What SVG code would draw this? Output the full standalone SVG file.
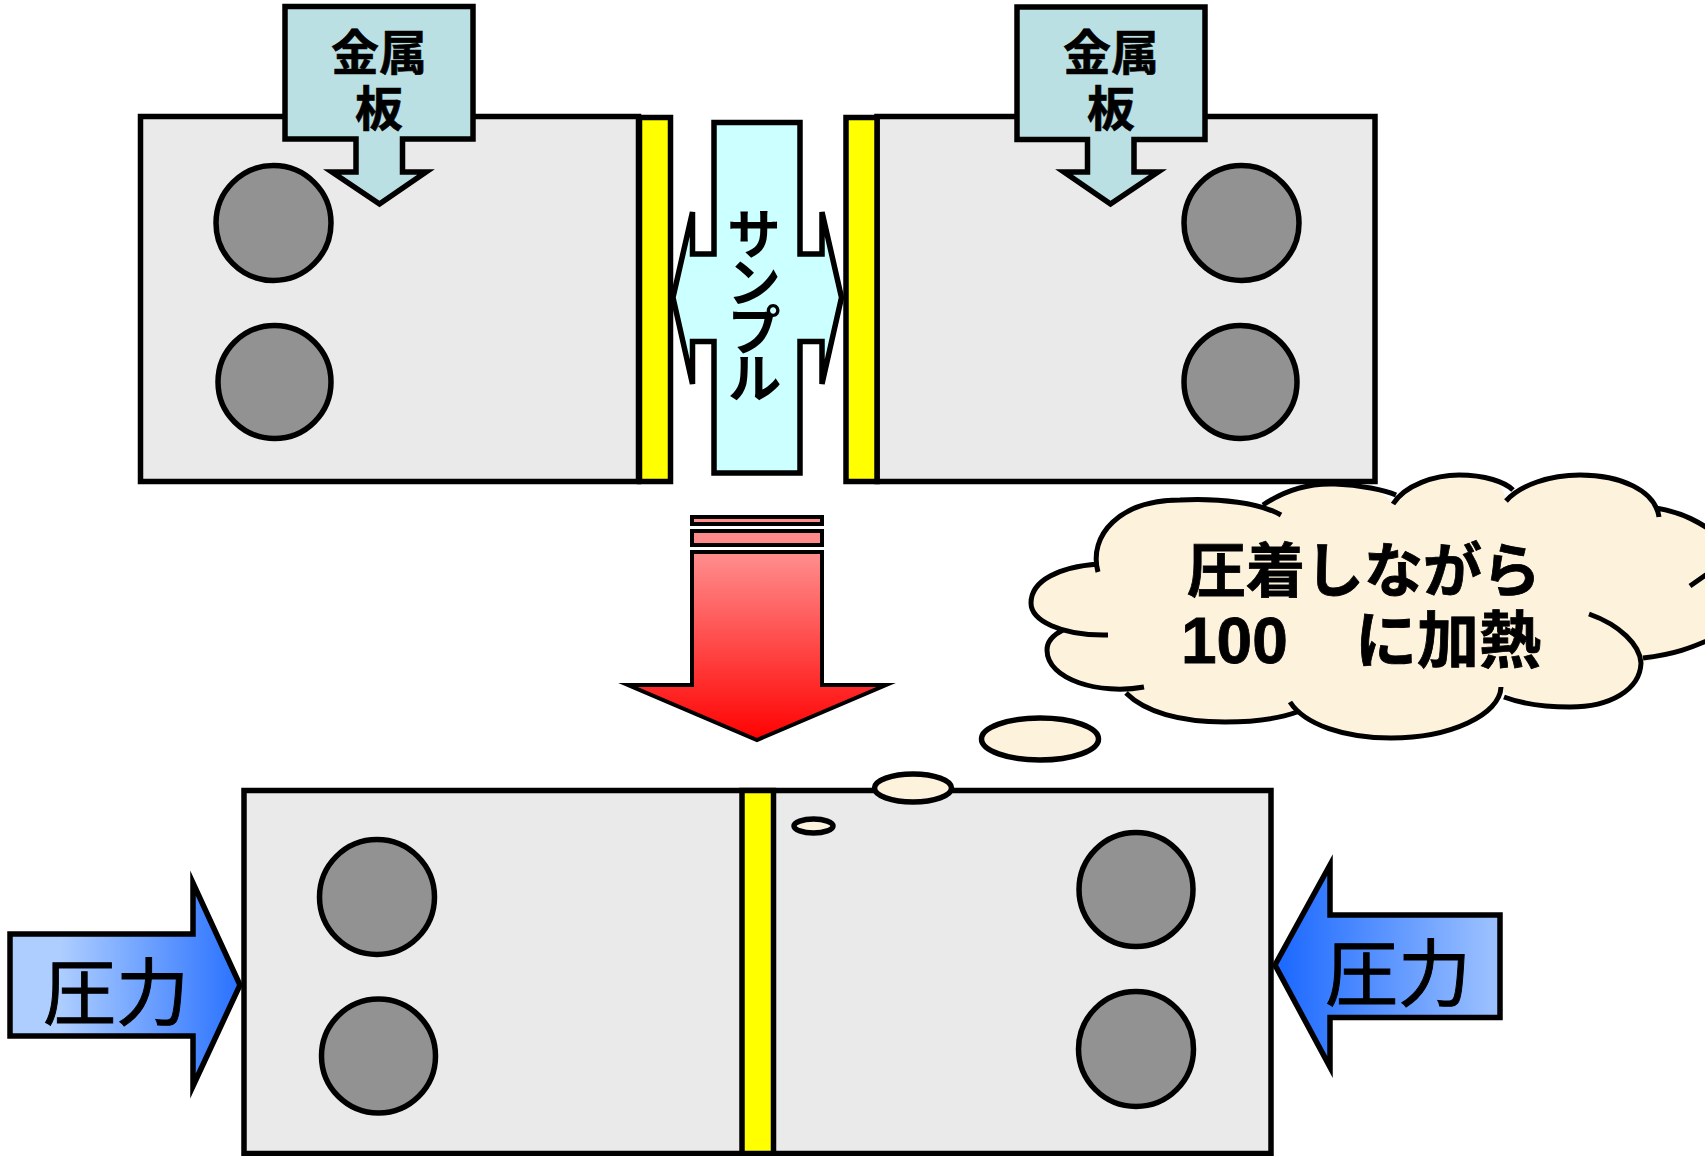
<svg xmlns="http://www.w3.org/2000/svg" width="1705" height="1156" viewBox="0 0 1705 1156">
<style>
.s{stroke:#000;stroke-width:5.500;stroke-miterlimit:10}
.box{fill:#EAEAEA}
.c{fill:#929292}
.y{fill:#FF0}
.m{fill:#BBE0E3}
.cl{fill:#FDF2DC}
.ln{fill:none;stroke:#000;stroke-width:5}
.r{stroke-width:4}
text{fill:#000;font-family:"Liberation Sans","Noto Sans CJK JP",sans-serif}
.b{font-size:48px;font-weight:700;text-anchor:middle;stroke:#000;stroke-width:.6px}
.p{font-size:73px;font-family:"Noto Sans CJK JP",sans-serif;stroke:#000;stroke-width:1px}
.h{font-size:59px;font-weight:700;stroke:#000;stroke-width:.8px}
.v{font-size:55px;font-weight:700;letter-spacing:-7px;font-family:"Noto Sans CJK JP",sans-serif}
</style>
<defs>
<linearGradient id="gr" gradientUnits="userSpaceOnUse" x1="0" y1="558" x2="0" y2="742"><stop offset="0" stop-color="#FF8A8A"/><stop offset="1" stop-color="#F00"/></linearGradient>
<linearGradient id="gb1" gradientUnits="userSpaceOnUse" x1="60" y1="0" x2="238" y2="0"><stop offset="0" stop-color="#AECEFF"/><stop offset="1" stop-color="#2A72FF"/></linearGradient>
<linearGradient id="gb2" gradientUnits="userSpaceOnUse" x1="1285" y1="0" x2="1490" y2="0"><stop offset="0" stop-color="#1F6BFF"/><stop offset="1" stop-color="#99BFFF"/></linearGradient>
</defs>
<g id="left-block">
<rect class="s box" x="140.500" y="116.500" width="498" height="365"/>
<circle class="s c" cx="273.500" cy="223" r="57.500"/>
<circle class="s c" cx="274.500" cy="382" r="56.500"/>
</g>
<g id="right-block">
<rect class="s box" x="877" y="116.500" width="498" height="365"/>
<circle class="s c" cx="1241.500" cy="223" r="57.500"/>
<circle class="s c" cx="1240.500" cy="382" r="56.500"/>
</g>
<g id="left-film"><rect class="s y" x="639.500" y="117.500" width="31" height="364"/></g>
<g id="right-film"><rect class="s y" x="846" y="117.500" width="31" height="364"/></g>
<g id="sample">
<path class="s" style="stroke-miterlimit:4" fill="#CFF" d="M714,122.500H800V254H822V212L841.500,297.500L822,384V341.500H800V473H714V341.500H692.500V384L673,297.500L692.500,212V254H714Z"/>
<text class="v" x="754" y="302" text-anchor="middle" writing-mode="vertical-rl">サンプル</text>
</g>
<g id="metal-left">
<path class="s m" d="M285,6.500H473V139H402.500V172H426L379.500,204L332,172H356V139H285Z"/>
<text class="b"><tspan x="379" y="70">金属</tspan><tspan x="379" y="126">板</tspan></text>
</g>
<g id="metal-right">
<path class="s m" d="M1017,7H1205V139.500H1134V172H1158L1110.500,204L1064,172H1087.500V139.500H1017Z"/>
<text class="b"><tspan x="1111" y="70">金属</tspan><tspan x="1111" y="126">板</tspan></text>
</g>
<g id="down-arrow">
<rect class="s r" fill="#FF8A8A" x="692" y="517" width="130" height="7"/>
<rect class="s r" fill="#FF8A8A" x="692" y="531" width="130" height="14"/>
<path class="s r" fill="url(#gr)" d="M692,552H822V685H886L757,740L628,685H692Z"/>
</g>
<g id="bottom-block">
<rect class="s box" x="244" y="790.500" width="1027" height="363"/>
<circle class="s c" cx="377" cy="897" r="57.500"/>
<circle class="s c" cx="378.500" cy="1056" r="57"/>
<circle class="s c" cx="1136" cy="889.500" r="57"/>
<circle class="s c" cx="1136" cy="1049" r="57.500"/>
<rect class="s y" x="742" y="790.500" width="31.500" height="363"/>
</g>
<g id="left-pressure">
<path class="s" fill="url(#gb1)" d="M10,934H193V883L240,985L193,1086V1036H10Z"/>
<text class="p" x="43" y="1019">圧力</text>
</g>
<g id="right-pressure">
<path class="s" fill="url(#gb2)" d="M1500,915H1330V865L1275,965L1330,1067V1017.500H1500Z"/>
<text class="p" x="1325" y="1000">圧力</text>
</g>
<g id="thought-cloud">
<ellipse class="s cl" cx="813.500" cy="826" rx="19.500" ry="7"/>
<ellipse class="s cl" cx="913" cy="788" rx="38.500" ry="14"/>
<ellipse class="s cl" cx="1040" cy="739" rx="58.500" ry="21"/>
<path class="cl" d="M1098,572C1088,535 1120,500 1180,500C1220,498 1245,503 1263,505C1285,490 1310,483 1335,484C1360,485 1385,490 1393,504C1405,485 1435,475 1459,475C1485,475 1505,482 1506,501C1520,485 1550,475 1580,475C1620,475 1655,490 1656,508C1680,512 1700,520 1730,545V630C1690,650 1670,655 1641,663C1640,690 1610,707 1570,707C1545,707 1520,703 1501,690C1500,715 1450,738 1391,738C1345,738 1305,725 1295,712C1275,720 1250,722 1225,722C1180,722 1145,712 1126,689C1100,695 1047,680 1047,650C1047,642 1053,635 1063,632C1040,625 1031,615 1031,603C1031,580 1060,567 1098,564Z"/>
<path class="ln" d="M1098,572C1088,535 1120,500 1180,500C1220,498 1260,503 1281,515M1263,505C1285,490 1310,483 1335,484C1360,485 1385,490 1396,495M1393,504C1405,485 1435,475 1459,475C1485,475 1505,482 1513,490M1506,501C1520,485 1550,475 1580,475C1620,475 1655,490 1659,517M1656,508C1680,512 1700,520 1730,545M1690,586L1720,565M1643,658C1670,655 1690,650 1730,630M1589,614C1620,625 1640,645 1641,663C1640,690 1610,707 1570,707C1545,707 1520,703 1504,697M1501,687C1500,715 1450,738 1391,738C1345,738 1305,725 1290,702M1297,712C1275,720 1250,722 1225,722C1180,722 1145,712 1126,693M1144,687C1100,695 1047,680 1047,650C1047,642 1053,635 1063,630M1108,635C1060,636 1031,620 1031,603C1031,580 1060,567 1098,564"/>
<text class="h" x="1187" y="592">圧着しながら</text>
<text class="h" y="663"><tspan x="1181" font-size="64">100</tspan><tspan x="1355" font-size="62">に加熱</tspan></text>
</g>
</svg>
